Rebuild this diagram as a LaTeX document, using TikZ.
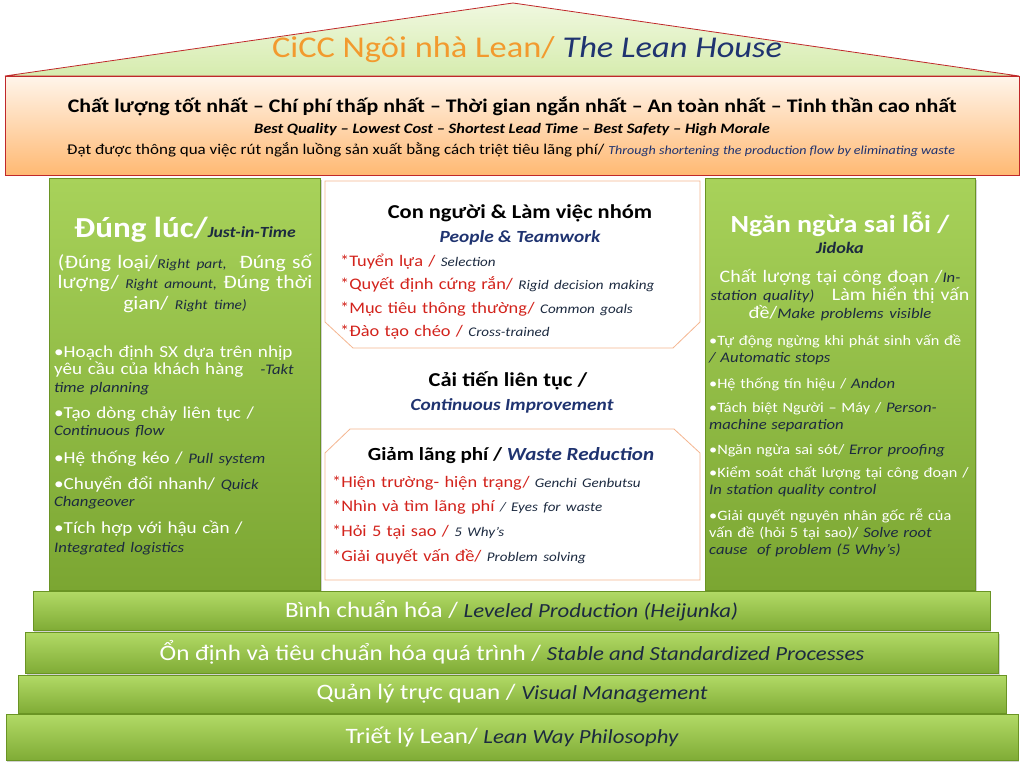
\documentclass[tikz,border=0pt]{standalone}
\usepackage{fontspec}
\setmainfont{Carlito}[FakeStretch=1.14]
\usetikzlibrary{positioning,shadows}
\definecolor{ink}{HTML}{1C2A40}
\definecolor{navy}{HTML}{1F3370}
\definecolor{redtxt}{HTML}{D3231C}
\definecolor{roofedge}{HTML}{C0282A}
\definecolor{rooftop}{HTML}{F0F8E0}
\definecolor{roofbottom}{HTML}{D6ECAE}
\definecolor{titleorange}{HTML}{F29A2E}
\definecolor{pillaredge}{HTML}{6A9424}
\definecolor{pillartop}{HTML}{A8D25A}
\definecolor{pillarbottom}{HTML}{7BA632}
\definecolor{stairtop}{HTML}{B2DA66}
\definecolor{stairbottom}{HTML}{80AC36}
\definecolor{boxedge}{HTML}{F5B690}
\tikzstyle{roof} = [draw=roofedge, thick, top color=rooftop, bottom color=roofbottom]
\tikzstyle{headbox} = [rectangle, draw=roofedge, thick, top color=orange!8, bottom color=orange!55!white, minimum width=1014pt, minimum height=99pt]
\tikzstyle{pillar} = [rectangle, draw=pillaredge, top color=pillartop, bottom color=pillarbottom, minimum height=412pt, drop shadow={opacity=0.35, shadow xshift=2pt, shadow yshift=-2pt}]
\tikzstyle{stair} = [rectangle, draw=pillaredge, top color=stairtop, bottom color=stairbottom, text=white, font=\fontsize{22}{22}\selectfont, drop shadow={opacity=0.35, shadow xshift=1pt, shadow yshift=-2pt}]
\tikzstyle{cbox} = [draw=boxedge, thick, fill=white]
\tikzstyle{line} = [anchor=base, inner sep=0pt]
\tikzstyle{bul} = [anchor=base west, inner sep=0pt, align=left, text=white, text width=290pt]
\tikzstyle{redlist} = [anchor=base west, inner sep=0pt, align=left, text=redtxt, text width=360pt]
\newcommand\eng[2][14.6]{{\fontsize{#1}{#1}\selectfont\itshape\color{ink}#2}}

\begin{document}
\begin{tikzpicture}[x=1pt,y=-1pt]
\useasboundingbox (0,0) rectangle (1024,776);
\fill[white] (0,0) rectangle (1024,776);
% roof and goals
\draw[roof] (5,76) -- (513,3) -- (1019,76) -- cycle;
\node (title) [line, font=\fontsize{30.2}{30.2}\selectfont] at (527,58) {{\color{titleorange}CiCC Ngôi nhà Lean/} {\color{navy}\itshape The Lean House}};
\node (goals) [headbox] at (512,125.5) {};
\node (goalsvn) [line, font=\fontsize{19.2}{19.2}\selectfont\bfseries] at (512,112) {Chất lượng tốt nhất – Chí phí thấp nhất – Thời gian ngắn nhất – An toàn nhất – Tinh thần cao nhất};
\node (goalsen) [line, font=\fontsize{14.4}{14.4}\selectfont\bfseries\itshape] at (512,133) {Best Quality – Lowest Cost – Shortest Lead Time – Best Safety – High Morale};
\node (goalsvia) [line, font=\fontsize{14.9}{14.9}\selectfont] at (511,154) {Đạt được thông qua việc rút ngắn luồng sản xuất bằng cách triệt tiêu lãng phí/ {\fontsize{12.3}{12.3}\selectfont\itshape\color{navy}Through shortening the production flow by eliminating waste}};

% pillars
\node (jit) [pillar, minimum width=271pt] at (184.5,384) {};
\node (jidoka) [pillar, minimum width=270pt] at (840,384) {};

% centre boxes
\draw[cbox] (325,181) -- (700,181) -- (700,322) -- (673,348) -- (353,348) -- (325,322) -- cycle;
\draw[cbox] (350,429) -- (674,429) -- (700,453) -- (700,580) -- (325,580) -- (325,453) -- cycle;

% just-in-time
\node (jittitle) [line, text=white, font=\fontsize{29}{29}\selectfont\bfseries] at (185,237) {Đúng lúc/\eng[15.5]{\bfseries Just-in-Time}};
\node (jitright) [line, text=white, align=center, text width=300pt, font=\fontsize{19}{20.5}\selectfont] at (185,268) {(Đúng loại/\eng[13.5]{Right part,}~ Đúng số\\lượng/ \eng[13.5]{Right amount,} Đúng thời\\gian/ \eng[13.5]{Right time)}};
\node (takt) [bul, font=\fontsize{16.8}{17.5}\selectfont] at (54,357) {•Hoạch định SX dựa trên nhịp\\yêu cầu của khách hàng~~ \eng{-Takt}\\\eng{time planning}};
\node (flow) [bul, font=\fontsize{16.8}{17.5}\selectfont] at (54,418) {•Tạo dòng chảy liên tục /\\\eng{Continuous flow}};
\node (pull) [bul, font=\fontsize{16.8}{17.5}\selectfont] at (54,463) {•Hệ thống kéo / \eng{Pull system}};
\node (smed) [bul, font=\fontsize{16.8}{17.5}\selectfont] at (54,489) {•Chuyển đổi nhanh/ \eng{Quick}\\\eng{Changeover}};
\node (logistics) [bul, font=\fontsize{16.8}{19}\selectfont] at (54,533) {•Tích hợp với hậu cần /\\\eng{Integrated logistics}};

% people and waste
\node (people) [line, font=\fontsize{19.7}{19.7}\selectfont\bfseries] at (520,218) {Con người \& Làm việc nhóm};
\node (peopleen) [line, text=navy, font=\fontsize{17}{17}\selectfont\bfseries\itshape] at (520,242) {People \& Teamwork};
\node (peoplelist) [redlist, font=\fontsize{16.1}{23.6}\selectfont] at (340,266) {{*}Tuyển lựa / \eng[13.2]{Selection}\\
  {*}Quyết định cứng rắn/ \eng[13.2]{Rigid decision making}\\
  {*}Mục tiêu thông thường/ \eng[13.2]{Common goals}\\
  {*}Đào tạo chéo / \eng[13.2]{Cross-trained}};
\node (kaizen) [line, font=\fontsize{19.7}{19.7}\selectfont\bfseries] at (508,386) {Cải tiến liên tục /};
\node (kaizenen) [line, text=navy, font=\fontsize{17}{17}\selectfont\bfseries\itshape] at (512,410) {Continuous Improvement};
\node (waste) [line, font=\fontsize{18.5}{18.5}\selectfont\bfseries] at (511,460) {Giảm lãng phí / {\color{navy}\itshape Waste Reduction}};
\node (wastelist) [redlist, font=\fontsize{16.1}{24.7}\selectfont] at (332,487) {{*}Hiện trường- hiện trạng/ \eng[13.2]{Genchi Genbutsu}\\
  {*}Nhìn và tìm lãng phí \eng[13.2]{/ Eyes for waste}\\
  {*}Hỏi 5 tại sao / \eng[13.2]{5 Why’s}\\
  {*}Giải quyết vấn đề/ \eng[13.2]{Problem solving}};

% jidoka
\node (jidokatitle) [line, text=white, font=\fontsize{24.6}{24.6}\selectfont\bfseries] at (840,232) {Ngăn ngừa sai lỗi /};
\node (jidokaen) [line] at (840,253) {\eng[16]{\bfseries Jidoka}};
\node (quality) [line, text=white, align=center, text width=290pt, font=\fontsize{17.5}{18}\selectfont] at (840,282) {Chất lượng tại công đoạn /\eng{In-}\\\eng{station quality)}~~ Làm hiển thị vấn\\đề/\eng{Make problems visible}};
\node (autostop) [bul, font=\fontsize{14.3}{17}\selectfont] at (709,345) {•Tự động ngừng khi phát sinh vấn đề\\\eng{/ Automatic stops}};
\node (andon) [bul, font=\fontsize{14.3}{17}\selectfont] at (709,388) {•Hệ thống tín hiệu / \eng{Andon}};
\node (separation) [bul, font=\fontsize{14.3}{17}\selectfont] at (709,412) {•Tách biệt Người – Máy / \eng{Person-}\\\eng{machine separation}};
\node (pokayoke) [bul, font=\fontsize{14.3}{17}\selectfont] at (709,454) {•Ngăn ngừa sai sót/ \eng{Error proofing}};
\node (instation) [bul, font=\fontsize{14.3}{17}\selectfont] at (709,477) {•Kiểm soát chất lượng tại công đoạn /\\\eng{In station quality control}};
\node (rootcause) [bul, font=\fontsize{14.3}{17}\selectfont] at (709,520) {•Giải quyết nguyên nhân gốc rễ của\\vấn đề (hỏi 5 tại sao)/ \eng{Solve root}\\\eng{cause~ of problem (5 Why’s)}};

% foundation
\node (heijunka) [stair, minimum width=957pt, minimum height=39pt] at (511.5,610.5) {Bình chuẩn hóa / \eng[20]{Leveled Production (Heijunka)}};
\node (stable) [stair, minimum width=973pt, minimum height=41pt] at (512,652.5) {Ổn định và tiêu chuẩn hóa quá trình / \eng[20]{Stable and Standardized Processes}};
\node (visual) [stair, minimum width=988pt, minimum height=38pt] at (512,694) {Quản lý trực quan / \eng[20]{Visual Management}};
\node (philosophy) [stair, minimum width=1012pt, minimum height=46pt] at (512,737) {Triết lý Lean/ \eng[20]{Lean Way Philosophy}};
\end{tikzpicture}
\end{document}
